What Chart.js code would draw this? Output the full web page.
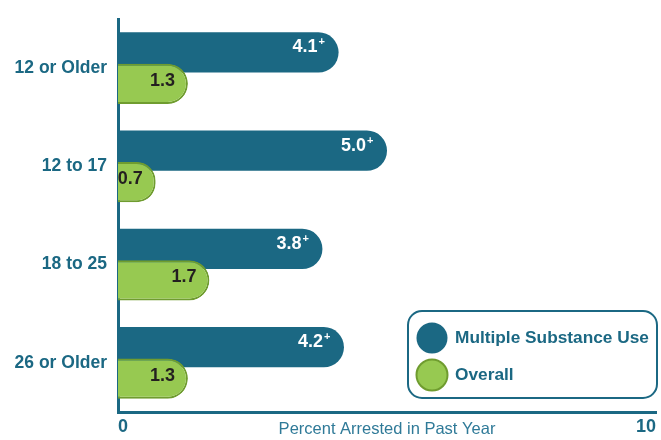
<!DOCTYPE html>
<html><head><meta charset="utf-8">
<script src="https://cdn.jsdelivr.net/npm/chart.js@4.4.1/dist/chart.umd.min.js"></script>
<style>html,body{margin:0;padding:0;background:#fff;} #wrap{width:661px;height:440px;}</style>
</head><body><div id="wrap"><canvas id="c" width="661" height="440"></canvas></div>
<script>
const categories = ['12 or Older', '12 to 17', '18 to 25', '26 or Older'];
const multipleSubstanceUse = [4.1, 5.0, 3.8, 4.2];
const overall = [1.3, 0.7, 1.7, 1.3];
const multipleMarks = ['+', '+', '+', '+'];
const seriesNames = ['Multiple Substance Use', 'Overall'];
const axisTitle = 'Percent Arrested in Past Year';
const xMin = 0, xMax = 10, xStep = 10;

const BLUE = '#1b6883', GREEN = '#97c951', GREEN_BORDER = '#6f9c2f', TITLE_COLOR = '#2f7a98';
const FAMILY = "'Liberation Sans', Arial, sans-serif";

const orderAndLabels = {
  id: 'orderAndLabels',
  beforeDatasetDraw(chart, args) {
    if (args.index === 1) return false;
  },
  afterDatasetsDraw(chart) {
    const ctx = chart.ctx;
    chart.getDatasetMeta(1).controller.draw();
    ctx.save();
    ctx.textBaseline = 'middle';
    chart.getDatasetMeta(0).data.forEach((bar, i) => {
      const right = bar.x - 21, y = bar.y - 5;
      ctx.fillStyle = '#ffffff';
      ctx.font = `bold 18px ${FAMILY}`;
      ctx.textAlign = 'right';
      ctx.fillText(multipleSubstanceUse[i].toFixed(1), right, y);
      ctx.font = `bold 11px ${FAMILY}`;
      ctx.textAlign = 'left';
      ctx.fillText(multipleMarks[i], right + 1, y - 5);
    });
    chart.getDatasetMeta(1).data.forEach((bar, i) => {
      ctx.fillStyle = '#231f20';
      ctx.font = `bold 18px ${FAMILY}`;
      ctx.textAlign = 'right';
      ctx.fillText(overall[i].toFixed(1), bar.x - 13, bar.y - 3);
    });
    ctx.restore();
  },
  afterDraw(chart) {
    const ctx = chart.ctx;
    const bx = 408, by = 311, bw = 249, bh = 87;
    ctx.save();
    ctx.beginPath();
    ctx.roundRect(bx, by, bw, bh, 14);
    ctx.fillStyle = '#ffffff';
    ctx.fill();
    ctx.lineWidth = 2;
    ctx.strokeStyle = BLUE;
    ctx.stroke();
    const rows = [338, 375];
    chart.data.datasets.forEach((ds, i) => {
      const cy = rows[i];
      ctx.beginPath();
      ctx.arc(432, cy, 15.5, 0, Math.PI * 2);
      ctx.fillStyle = ds.backgroundColor;
      ctx.fill();
      if (ds.borderWidth) {
        ctx.lineWidth = 2;
        ctx.strokeStyle = ds.borderColor;
        ctx.stroke();
      }
      ctx.fillStyle = BLUE;
      ctx.font = `bold 17.3px ${FAMILY}`;
      ctx.textAlign = 'left';
      ctx.textBaseline = 'middle';
      ctx.fillText(ds.label, 455, cy);
    });
    ctx.restore();
  }
};

new Chart(document.getElementById('c'), {
  type: 'bar',
  data: {
    labels: categories,
    datasets: [
      { label: seriesNames[0], data: multipleSubstanceUse, backgroundColor: BLUE, borderWidth: 0,
        borderRadius: 25, borderSkipped: 'start', categoryPercentage: 0.638, barPercentage: 1.286 },
      { label: seriesNames[1], data: overall, backgroundColor: GREEN, borderColor: GREEN_BORDER, borderWidth: 2,
        borderRadius: 25, borderSkipped: 'start', categoryPercentage: 0.638, barPercentage: 1.286 }
    ]
  },
  options: {
    indexAxis: 'y',
    responsive: false,
    animation: false,
    layout: { padding: { top: 19, right: 5, bottom: 0, left: 0 } },
    plugins: { legend: { display: false }, tooltip: { enabled: false } },
    scales: {
      y: {
        grid: { display: false, drawTicks: false },
        border: { display: true, color: BLUE, width: 3 },
        ticks: { color: BLUE, padding: 11, font: { family: FAMILY, size: 17.5, weight: 'bold' } },
        afterFit(s) { s.width = 118; s.paddingTop = 0; s.paddingBottom = 0; }
      },
      x: {
        min: xMin, max: xMax,
        grid: { display: false, drawTicks: false },
        border: { display: true, color: BLUE, width: 3 },
        ticks: { stepSize: xStep, align: 'inner', color: BLUE, padding: 4, font: { family: FAMILY, size: 18, weight: 'bold' } },
        title: { display: true, text: axisTitle, color: TITLE_COLOR, padding: { top: 0, bottom: 1 },
                 font: { family: FAMILY, size: 16.5, weight: 'normal' } },
        afterFit(s) { s.height = 28; }
      }
    }
  },
  plugins: [orderAndLabels]
});
</script>
</body></html>
